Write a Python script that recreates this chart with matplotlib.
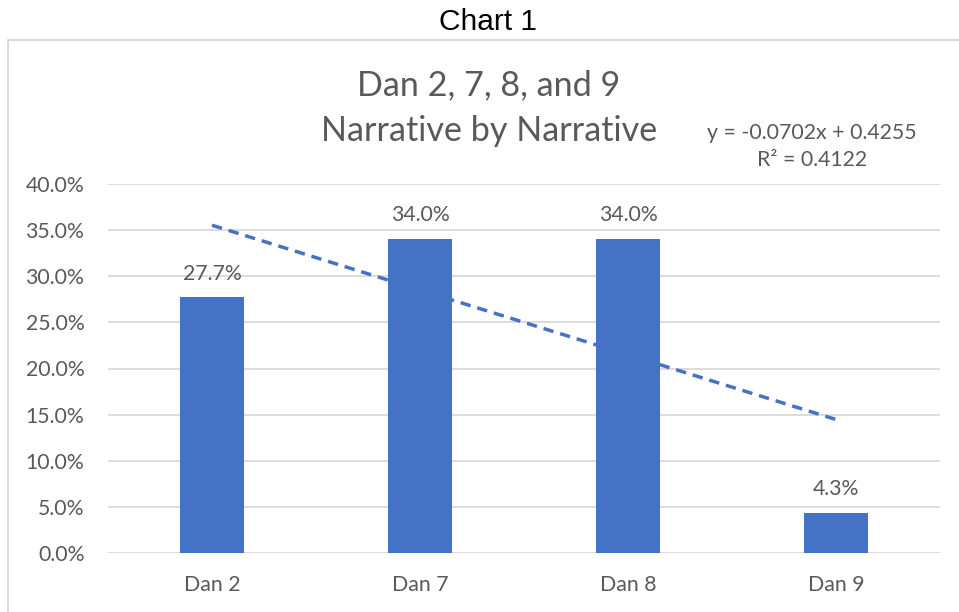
import matplotlib.pyplot as plt
from matplotlib.patches import Rectangle
from matplotlib.ticker import PercentFormatter
import numpy as np

categories = ["Dan 2", "Dan 7", "Dan 8", "Dan 9"]
values = [0.277, 0.340, 0.340, 0.043]
labels = ["27.7%", "34.0%", "34.0%", "4.3%"]

plt.rcParams['font.family'] = ['Lato', 'DejaVu Sans']
gray = '#595959'

fig = plt.figure(figsize=(9.59, 6.12), dpi=100)
# chart border (cut off at right/bottom like the screenshot)
fig.patches.append(Rectangle((8/959, -0.05), 1.2, (612-40)/612 + 0.05,
                             transform=fig.transFigure, fill=False,
                             edgecolor='#d9d9d9', linewidth=1.5))
fig.text(488/959, 1 - 22/612, "Chart 1", ha='center', va='center',
         fontsize=21.5, family='Liberation Sans', color='black')

ax = fig.add_axes([108/959, 1 - 553/612, 832/959, (553-184)/612])
x = np.arange(len(categories))
ax.bar(x, values, width=0.31, color='#4472c4', zorder=2)
for xi, v, lab in zip(x, values, labels):
    ax.annotate(lab, (xi, v), xytext=(0, 10), textcoords='offset points',
                ha='center', va='bottom', fontsize=15.3, color=gray)

# linear trendline (x = 1..n as in Excel)
xn = x + 1
k, b = np.polyfit(xn, values, 1)
yfit = k * xn + b
r2 = 1 - np.sum((np.array(values) - yfit)**2) / np.sum((np.array(values) - np.mean(values))**2)
ax.plot(x, yfit, '--', color='#4472c4', linewidth=2.5, dashes=(3, 2), zorder=3)
fig.text(812/959, 1 - 133/612, f"y = {k:.4f}x + {b:.4f}", ha='center', va='center',
         fontsize=15.3, color=gray)
fig.text(812/959, 1 - 160/612, f"R² = {r2:.4f}", ha='center', va='center',
         fontsize=15.3, color=gray)

fig.text(489/959, 1 - 85/612, "Dan 2, 7, 8, and 9", ha='center', va='center',
         fontsize=24.6, color=gray)
fig.text(489/959, 1 - 131/612, "Narrative by Narrative", ha='center', va='center',
         fontsize=24.6, color=gray)

ax.set_xlim(-0.5, 3.5)
ax.set_ylim(0, 0.40)
ax.set_yticks(np.arange(0, 0.401, 0.05))
ax.yaxis.set_major_formatter(PercentFormatter(1.0, decimals=1))
ax.set_xticks(x)
ax.set_xticklabels(categories)
ax.grid(axis='y', color='#d9d9d9', linewidth=1.3, zorder=0)
ax.set_axisbelow(True)
for s in ax.spines.values():
    s.set_visible(False)
ax.tick_params(length=0, labelsize=15.3, labelcolor=gray)
ax.tick_params(axis='y', pad=17)
ax.tick_params(axis='x', pad=16)

fig.savefig('out.png', dpi=100)
